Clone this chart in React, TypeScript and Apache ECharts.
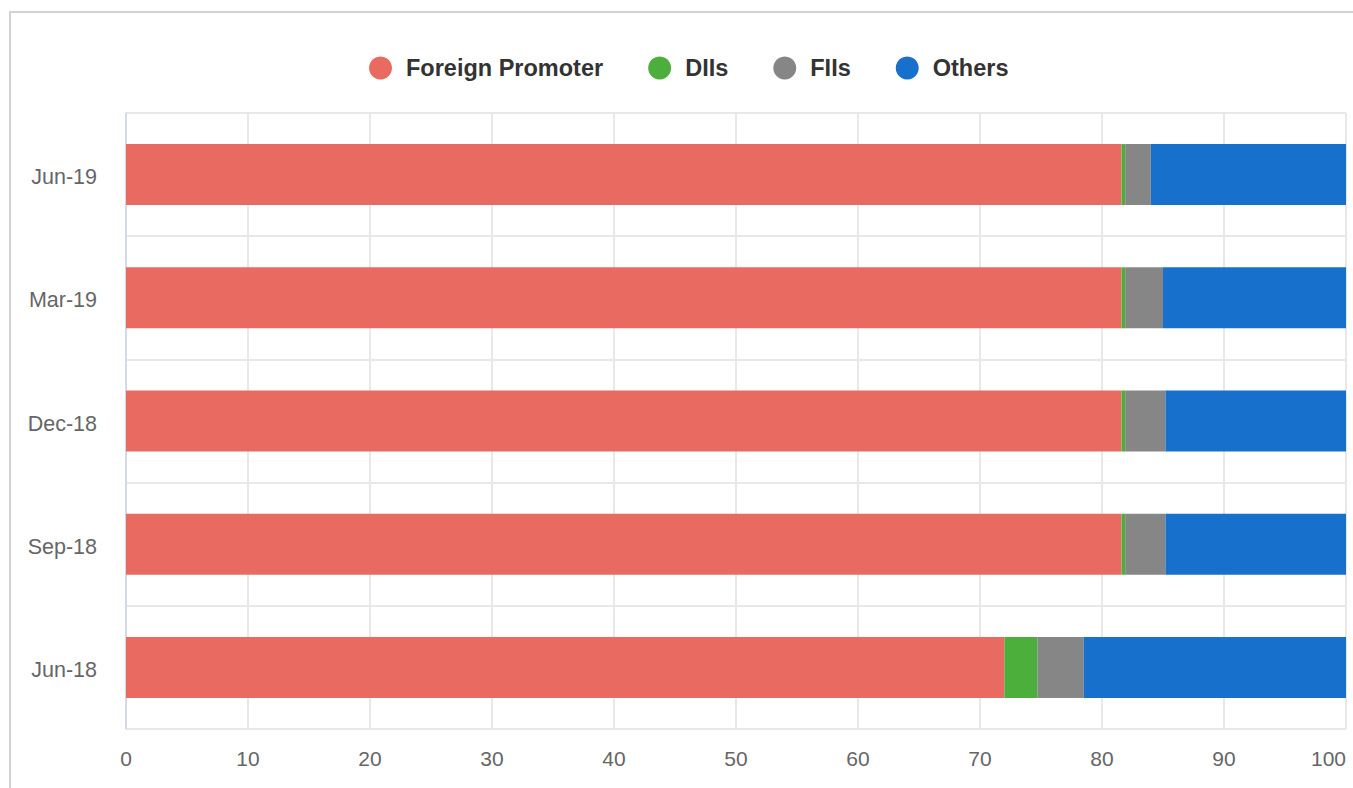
import React, { useEffect, useRef } from "react";
import * as echarts from "echarts";

const categories = ["Jun-18", "Sep-18", "Dec-18", "Mar-19", "Jun-19"];
const foreignPromoter = [72.0, 81.6, 81.6, 81.6, 81.6];
const diis = [2.7, 0.3, 0.3, 0.3, 0.3];
const fiis = [3.8, 3.3, 3.3, 3.1, 2.1];
const others = [21.5, 14.8, 14.8, 15.0, 16.0];
const xTicks = { min: 0, max: 100, interval: 10 };

const FONT = "'Liberation Sans', Arial, Helvetica, sans-serif";

export default function App() {
  const ref = useRef<HTMLDivElement>(null);
  useEffect(() => {
    if (!ref.current) return;
    const chart = echarts.init(ref.current, null, { renderer: "svg" });
    const mk = (name: string, data: number[], color: string) => ({
      name,
      type: "bar",
      stack: "total",
      data,
      barWidth: 61,
      itemStyle: { color },
      emphasis: { disabled: true },
    });
    chart.setOption({
      animation: false,
      backgroundColor: "#ffffff",
      textStyle: { fontFamily: FONT },
      graphic: [
        {
          type: "rect",
          shape: { x: 10, y: 12, width: 1500, height: 1000 },
          style: { fill: "none", stroke: "#d2d2d2", lineWidth: 2 },
          silent: true,
          z: -10,
        },
      ],
      legend: {
        left: 364,
        top: 51,
        icon: "circle",
        itemWidth: 23,
        itemHeight: 23,
        itemGap: 45,
        textStyle: {
          fontFamily: FONT,
          fontSize: 23.5,
          fontWeight: "bold",
          color: "#333333",
          padding: [0, 0, 0, 9],
        },
        data: ["Foreign Promoter", "DIIs", "FIIs", "Others"],
      },
      grid: {
        left: 126,
        right: 7,
        top: 113,
        bottom: 59,
        containLabel: false,
        outerBoundsMode: "none",
      },
      xAxis: {
        type: "value",
        min: xTicks.min,
        max: xTicks.max,
        interval: xTicks.interval,
        axisLine: { show: false },
        axisTick: { show: false },
        axisLabel: {
          color: "#666666",
          fontSize: 21,
          fontFamily: FONT,
          margin: 19,
          alignMaxLabel: "right",
        },
        splitLine: { show: true, lineStyle: { color: "#e8e8e8", width: 2 } },
      },
      yAxis: {
        type: "category",
        data: categories,
        axisLine: { show: true, lineStyle: { color: "#ccd6eb", width: 1.5 } },
        axisTick: { show: false },
        axisLabel: {
          margin: 29,
          formatter: (v: string) => `{a|${v}}`,
          rich: {
            a: {
              color: "#666666",
              fontSize: 21.5,
              fontFamily: FONT,
              padding: [5, 0, 0, 0],
            },
          },
        },
        splitLine: { show: true, lineStyle: { color: "#e8e8e8", width: 2 } },
      },
      series: [
        mk("Foreign Promoter", foreignPromoter, "#e96a61"),
        mk("DIIs", diis, "#4cae3b"),
        mk("FIIs", fiis, "#868686"),
        mk("Others", others, "#1771cc"),
      ],
    });
    return () => chart.dispose();
  }, []);
  return (
    <div
      ref={ref}
      style={{ position: "fixed", left: 0, top: 0, width: 1353, height: 788, background: "#fff" }}
    />
  );
}
